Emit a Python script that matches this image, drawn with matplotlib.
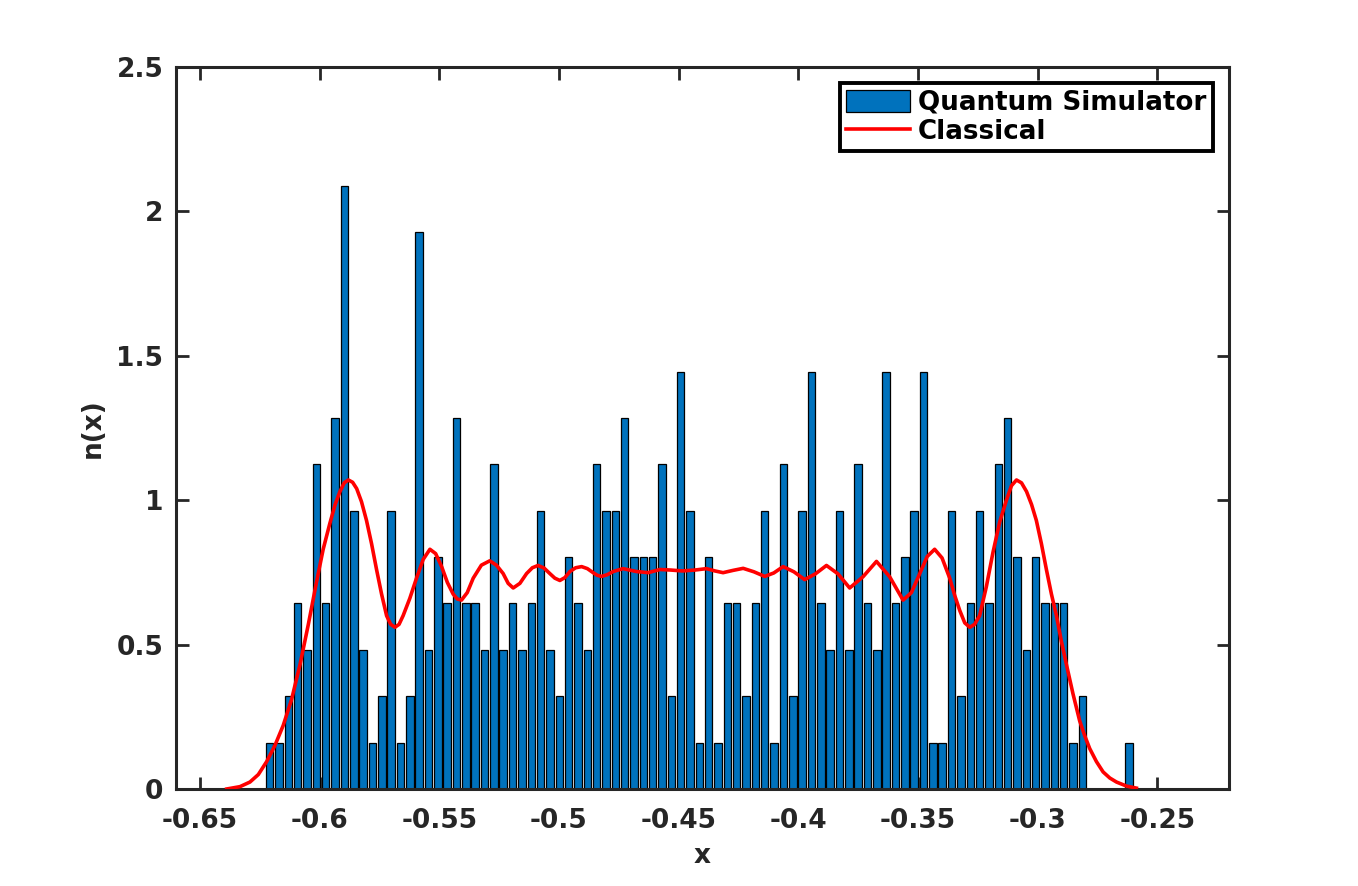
import numpy as np
import matplotlib
matplotlib.use("Agg")
import matplotlib.pyplot as plt

# Histogram (quantum simulator): counts per bin, bin 1 centred at bin_start
bin_start = -0.62084
bin_width = 0.003903
count_unit = 0.1606  # height of one count on the n(x) axis
counts = [1, 1, 2, 4, 3, 7, 4, 8, 13, 6, 3, 1, 2, 6, 1, 2, 12, 3, 5, 4, 8, 4,
          4, 3, 7, 3, 4, 3, 4, 6, 3, 2, 5, 4, 3, 7, 6, 6, 8, 5, 5, 5, 7, 2, 9,
          6, 1, 5, 1, 4, 4, 2, 4, 6, 1, 7, 2, 6, 9, 4, 3, 6, 3, 7, 4, 3, 9,
          4, 5, 6, 9, 1, 1, 6, 2, 4, 6, 4, 7, 8, 5, 3, 5, 4, 4, 4, 1, 2,
          0, 0, 0, 0, 1]

# Classical density curve
x_classical = [-0.6388, -0.6333, -0.6291, -0.6256, -0.6221, -0.6187, -0.6152, -0.6117,
               -0.6082, -0.6047, -0.6012, -0.5985, -0.5957, -0.5935, -0.5915, -0.5897,
               -0.5880, -0.5862, -0.5845, -0.5825, -0.5804, -0.5783, -0.5762, -0.5741,
               -0.5720, -0.5703, -0.5685, -0.5668, -0.5651, -0.5623, -0.5595, -0.5567,
               -0.5539, -0.5515, -0.5490, -0.5466, -0.5442, -0.5425, -0.5407, -0.5383,
               -0.5358, -0.5324, -0.5289, -0.5261, -0.5233, -0.5212, -0.5191, -0.5163,
               -0.5135, -0.5111, -0.5087, -0.5062, -0.5038, -0.5017, -0.4996, -0.4975,
               -0.4954, -0.4930, -0.4905, -0.4881, -0.4857, -0.4840, -0.4822, -0.4798,
               -0.4773, -0.4732, -0.4676, -0.4627, -0.4578, -0.4531, -0.4484, -0.4433,
               -0.4383, -0.4348, -0.4314, -0.4272, -0.4230, -0.4185, -0.4140, -0.4102,
               -0.4063, -0.4018, -0.3973, -0.3928, -0.3882, -0.3834, -0.3785, -0.3729,
               -0.3673, -0.3618, -0.3562, -0.3527, -0.3492, -0.3461, -0.3430, -0.3399,
               -0.3367, -0.3346, -0.3325, -0.3304, -0.3283, -0.3263, -0.3242, -0.3214,
               -0.3186, -0.3158, -0.3130, -0.3109, -0.3088, -0.3067, -0.3046, -0.3025,
               -0.3005, -0.2984, -0.2963, -0.2942, -0.2921, -0.2900, -0.2879, -0.2852,
               -0.2824, -0.2803, -0.2782, -0.2754, -0.2726, -0.2698, -0.2670, -0.2628,
               -0.2587]
n_classical = [0.000, 0.008, 0.024, 0.050, 0.095, 0.150, 0.220, 0.310,
               0.430, 0.570, 0.720, 0.830, 0.920, 0.985, 1.030, 1.060,
               1.070, 1.062, 1.040, 0.995, 0.930, 0.850, 0.760, 0.675,
               0.600, 0.570, 0.560, 0.570, 0.600, 0.660, 0.730, 0.795,
               0.830, 0.815, 0.770, 0.715, 0.675, 0.658, 0.654, 0.680,
               0.730, 0.775, 0.790, 0.775, 0.746, 0.712, 0.696, 0.712,
               0.746, 0.766, 0.774, 0.765, 0.746, 0.730, 0.722, 0.732,
               0.753, 0.766, 0.770, 0.763, 0.749, 0.740, 0.736, 0.742,
               0.753, 0.763, 0.753, 0.749, 0.760, 0.758, 0.755, 0.758,
               0.763, 0.755, 0.749, 0.757, 0.764, 0.752, 0.736, 0.748,
               0.770, 0.752, 0.725, 0.745, 0.774, 0.745, 0.696, 0.735,
               0.788, 0.735, 0.654, 0.680, 0.746, 0.805, 0.830, 0.800,
               0.730, 0.670, 0.618, 0.575, 0.560, 0.570, 0.600, 0.700,
               0.820, 0.925, 1.000, 1.050, 1.070, 1.060, 1.030, 0.985,
               0.930, 0.850, 0.760, 0.675, 0.600, 0.510, 0.430, 0.330,
               0.236, 0.185, 0.140, 0.095, 0.059, 0.038, 0.024, 0.010,
               0.003]

x_ticks = [-0.65, -0.6, -0.55, -0.5, -0.45, -0.4, -0.35, -0.3, -0.25]
x_tick_labels = ["-0.65", "-0.6", "-0.55", "-0.5", "-0.45", "-0.4", "-0.35", "-0.3", "-0.25"]
y_ticks = [0, 0.5, 1, 1.5, 2, 2.5]
y_tick_labels = ["0", "0.5", "1", "1.5", "2", "2.5"]

axis_color = "#262626"
plt.rcParams["font.family"] = ["DejaVu Sans"]
plt.rcParams["font.weight"] = "bold"

fig = plt.figure(figsize=(13.58, 8.86), dpi=100)
ax = fig.add_axes([0.1296, 0.1095, 0.7754, 0.8149])

centers = bin_start + bin_width * np.arange(len(counts))
heights = np.array(counts) * count_unit
bars = ax.bar(centers, heights, width=0.8 * bin_width, color="#0072BD",
              edgecolor="black", linewidth=0.9, label="Quantum Simulator", zorder=2)
line, = ax.plot(x_classical, n_classical, color="#FF0000", linewidth=2.6,
                label="Classical", zorder=3)

ax.set_xlim(-0.66, -0.22)
ax.set_ylim(0, 2.5)
ax.set_xticks(x_ticks)
ax.set_xticklabels(x_tick_labels)
ax.set_yticks(y_ticks)
ax.set_yticklabels(y_tick_labels)

for side in ["left", "right", "top", "bottom"]:
    ax.spines[side].set_linewidth(2.2)
    ax.spines[side].set_color(axis_color)
ax.tick_params(axis="both", which="major", direction="in", length=9, width=2.0,
               color=axis_color, labelcolor=axis_color, labelsize=19,
               top=True, right=True)
ax.tick_params(axis="x", pad=14)
ax.tick_params(axis="y", pad=9)

ax.set_xlabel("x", fontsize=19, fontweight="bold", color=axis_color, labelpad=6)
ax.set_ylabel("n(x)", fontsize=19, fontweight="bold", color=axis_color, labelpad=8)

leg = ax.legend(handles=[bars, line], labels=["Quantum Simulator", "Classical"],
                loc="upper right", fontsize=18.8, frameon=True, fancybox=False,
                framealpha=1, borderaxespad=0.62, borderpad=0.25, labelspacing=0.12,
                handlelength=2.45, handleheight=0.9, handletextpad=0.3)
leg.get_frame().set_edgecolor("black")
leg.get_frame().set_linewidth(2.8)
for txt in leg.get_texts():
    txt.set_fontweight("bold")
    txt.set_color("black")

fig.savefig("out.png", dpi=100)
